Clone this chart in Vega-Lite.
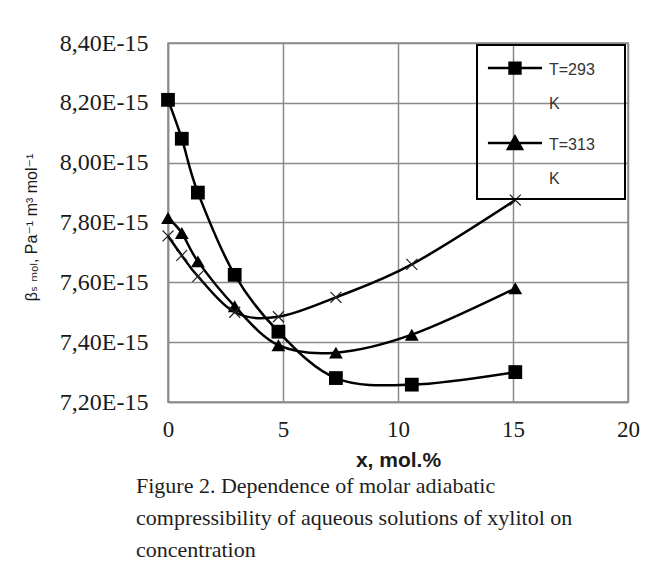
{
  "$schema": "https://vega.github.io/schema/vega-lite/v6.json",
  "width": 460,
  "height": 359,
  "autosize": {"type": "none"},
  "padding": {"left": 168, "top": 43, "right": 18, "bottom": 165},
  "background": "white",
  "config": {
    "view": {"stroke": "#8a8a8a", "strokeWidth": 1.5},
    "legend": {"strokeWidth": 2},
    "style": {"guide-label": {"lineHeight": 34}}
  },
  "title": {
    "text": [
      "Figure 2. Dependence of molar adiabatic",
      "compressibility of aqueous solutions of xylitol on",
      "concentration"
    ],
    "orient": "bottom",
    "anchor": "start",
    "frame": "group",
    "dx": -32,
    "offset": 6,
    "font": "Liberation Serif",
    "fontSize": 22,
    "fontWeight": "normal",
    "lineHeight": 32,
    "color": "#1e1e1e"
  },
  "data": {
    "values": [
      {"series": "T=293 K", "x": 0, "beta": 8.21e-15},
      {"series": "T=293 K", "x": 0.6, "beta": 8.08e-15},
      {"series": "T=293 K", "x": 1.3, "beta": 7.9e-15},
      {"series": "T=293 K", "x": 2.9, "beta": 7.625e-15},
      {"series": "T=293 K", "x": 4.8, "beta": 7.435e-15},
      {"series": "T=293 K", "x": 7.3, "beta": 7.28e-15},
      {"series": "T=293 K", "x": 10.6, "beta": 7.258e-15},
      {"series": "T=293 K", "x": 15.1, "beta": 7.3e-15},
      {"series": "T=313 K", "x": 0, "beta": 7.815e-15},
      {"series": "T=313 K", "x": 0.6, "beta": 7.765e-15},
      {"series": "T=313 K", "x": 1.3, "beta": 7.67e-15},
      {"series": "T=313 K", "x": 2.9, "beta": 7.52e-15},
      {"series": "T=313 K", "x": 4.8, "beta": 7.39e-15},
      {"series": "T=313 K", "x": 7.3, "beta": 7.365e-15},
      {"series": "T=313 K", "x": 10.6, "beta": 7.425e-15},
      {"series": "T=313 K", "x": 15.1, "beta": 7.58e-15},
      {"series": "T=333 K", "x": 0, "beta": 7.755e-15},
      {"series": "T=333 K", "x": 0.6, "beta": 7.69e-15},
      {"series": "T=333 K", "x": 1.3, "beta": 7.62e-15},
      {"series": "T=333 K", "x": 2.9, "beta": 7.5e-15},
      {"series": "T=333 K", "x": 4.8, "beta": 7.485e-15},
      {"series": "T=333 K", "x": 7.3, "beta": 7.55e-15},
      {"series": "T=333 K", "x": 10.6, "beta": 7.66e-15},
      {"series": "T=333 K", "x": 15.1, "beta": 7.875e-15}
    ]
  },
  "encoding": {
    "x": {
      "field": "x",
      "type": "quantitative",
      "scale": {"domain": [0, 20], "nice": false, "zero": false},
      "axis": {
        "values": [0, 5, 10, 15, 20],
        "title": "x, mol.%",
        "titleFont": "Liberation Sans",
        "titleFontSize": 21,
        "titleFontWeight": "bold",
        "titleColor": "#1a1a1a",
        "titlePadding": 8,
        "labelFont": "Liberation Serif",
        "labelFontSize": 23,
        "labelColor": "#1a1a1a",
        "labelPadding": 16,
        "labelFlush": false,
        "ticks": false,
        "domainColor": "#8a8a8a",
        "domainWidth": 1.5,
        "gridColor": "#8a8a8a",
        "gridWidth": 1.5,
        "gridOpacity": 1
      }
    },
    "y": {
      "field": "beta",
      "type": "quantitative",
      "scale": {"domain": [7.2e-15, 8.4e-15], "nice": false, "zero": false},
      "axis": {
        "values": [7.2e-15, 7.4e-15, 7.6e-15, 7.8e-15, 8.0e-15, 8.2e-15, 8.4e-15],
        "labelExpr": "replace(format(datum.value * 1e15, '.2f'), '.', ',') + 'E-15'",
        "title": "βₛ ₘₒₗ, Pa⁻¹ m³ mol⁻¹",
        "titleFont": "Liberation Sans, DejaVu Sans",
        "titleFontSize": 16,
        "titleFontWeight": "normal",
        "titleColor": "#1a1a1a",
        "titlePadding": 20,
        "titleY": 184,
        "labelFont": "Liberation Serif",
        "labelFontSize": 24,
        "labelColor": "#1a1a1a",
        "labelPadding": 20,
        "labelFlush": false,
        "ticks": false,
        "domainColor": "#8a8a8a",
        "domainWidth": 1.5,
        "gridColor": "#8a8a8a",
        "gridWidth": 1.5,
        "gridOpacity": 1
      }
    }
  },
  "layer": [
    {
      "mark": {"type": "line", "interpolate": "cardinal", "color": "black", "strokeWidth": 2.5},
      "encoding": {"detail": {"field": "series"}}
    },
    {
      "transform": [{"filter": "datum.series !== 'T=333 K'"}],
      "mark": {"type": "point", "filled": true, "color": "black", "opacity": 1, "size": 190},
      "encoding": {
        "shape": {
          "field": "series",
          "scale": {"domain": ["T=293 K", "T=313 K"], "range": ["square", "triangle-up"]},
          "legend": null
        }
      }
    },
    {
      "transform": [{"filter": "datum.series === 'T=333 K'"}],
      "mark": {
        "type": "point",
        "filled": false,
        "color": "#222",
        "strokeWidth": 1.2,
        "opacity": 1,
        "size": 120,
        "shape": "M-1,-1L1,1M-1,1L1,-1"
      }
    },
    {
      "transform": [{"filter": "datum.series !== 'T=333 K'"}],
      "mark": {"type": "point", "filled": false, "color": "black", "strokeWidth": 2.5, "opacity": 0},
      "encoding": {
        "shape": {
          "field": "series",
          "scale": {
            "domain": ["T=293 K", "T=313 K"],
            "range": [
              "M-1.16,-0.41H2.22M0.19,-0.74H0.87V-0.605H0.19V-0.47H0.87V-0.335H0.19V-0.2H0.87V-0.07H0.19Z",
              "M-1.16,-0.41H2.22M0.53,-0.81L0.97,-0.03H0.09ZM0.457,-0.68H0.603M0.38,-0.545H0.68M0.304,-0.41H0.756M0.23,-0.275H0.83M0.152,-0.14H0.908"
            ]
          },
          "legend": {
            "orient": "none",
            "legendX": 309,
            "legendY": 2,
            "title": null,
            "strokeColor": "black",
            "padding": 12,
            "rowPadding": 19,
            "symbolSize": 1024,
            "symbolStrokeWidth": 2.5,
            "symbolStrokeColor": "black",
            "symbolOpacity": 1,
            "labelFont": "Liberation Sans",
            "labelFontSize": 16,
            "labelColor": "#333333",
            "labelOffset": 25,
            "labelBaseline": "alphabetic",
            "labelExpr": "[split(datum.label, ' ')[0] + '    \u200b', split(datum.label, ' ')[1]]"
          }
        }
      }
    }
  ],
  "resolve": {"scale": {"shape": "independent"}}
}
